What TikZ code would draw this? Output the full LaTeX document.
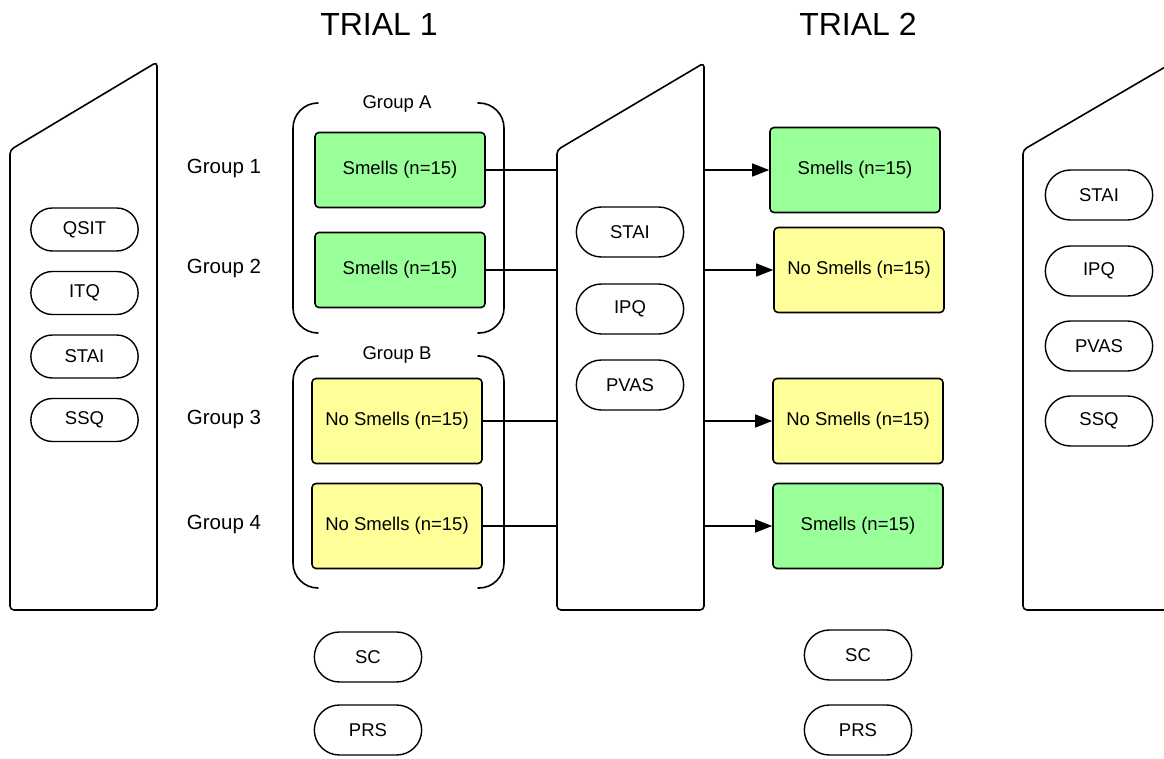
\documentclass[tikz,border=0pt]{standalone}
\usepackage{fontspec}
\setmainfont{Liberation Sans}
\usetikzlibrary{arrows.meta,shapes.misc}
\definecolor{smellgreen}{RGB}{153,255,153}
\definecolor{nosmellyellow}{RGB}{255,255,153}

\tikzset{
  panel/.style={line width=1.6pt,rounded corners=4pt},
  bracket/.style={line width=1.6pt,rounded corners=25pt},
  cond/.style={draw,line width=1.6pt,rounded corners=4pt,minimum width=170pt,font=\fontsize{18.5}{22}\selectfont},
  smells/.style={cond,fill=smellgreen},
  nosmells/.style={cond,fill=nosmellyellow},
  quest/.style={draw,rounded rectangle,line width=1.4pt,minimum width=114pt,minimum height=50pt,font=\fontsize{18.5}{22}\selectfont},
  grouplabel/.style={font=\fontsize{20.5}{24}\selectfont},
  bracelabel/.style={fill=white,inner xsep=8pt,font=\fontsize{18.5}{22}\selectfont},
  trial/.style={font=\fontsize{32}{38}\selectfont},
  link/.style={line width=1.4pt}
}

\begin{document}
\begin{tikzpicture}[line cap=round,line join=round,x=1pt,y=-1pt,>={Triangle[length=17pt,width=13pt]}]
\useasboundingbox (0,0) rectangle (1164,759);

% titles
\node [trial] (trial1) at (379,24) {TRIAL 1};
\node [trial] (trial2) at (858,24) {TRIAL 2};

% the three measurement panels
\draw [panel] (10,150) -- (157,62) -- (157,610) -- (10,610) -- cycle;
\draw [panel] (557,150) -- (704,63) -- (704,610) -- (557,610) -- cycle;
\begin{scope}
\clip (0,0) rectangle (1164,759);
\draw [panel] (1023,150) -- (1172,63) -- (1172,610) -- (1023,610) -- cycle;
\end{scope}
\coordinate (midL) at (557,300);
\coordinate (midR) at (704,300);

% before trial 1
\node [quest,minimum height=43pt] (qsit) at (84.5,229.5) {QSIT};
\node [quest,minimum height=43pt] (itq) at (84.5,293) {ITQ};
\node [quest,minimum height=43pt] (stai0) at (84.5,356.5) {STAI};
\node [quest,minimum height=43pt] (ssq0) at (84.5,420) {SSQ};

% between trials
\node [quest] (stai1) at (630,232) {STAI};
\node [quest] (ipq1) at (630,309) {IPQ};
\node [quest] (pvas1) at (630,385) {PVAS};

% after trial 2
\node [quest] (stai2) at (1099,195) {STAI};
\node [quest] (ipq2) at (1099,271) {IPQ};
\node [quest] (pvas2) at (1099,346) {PVAS};
\node [quest] (ssq2) at (1099,421) {SSQ};

% during the trials
\node [quest] (sc1) at (368,657) {SC};
\node [quest] (prs1) at (368,730) {PRS};
\node [quest] (sc2) at (858,655) {SC};
\node [quest] (prs2) at (858,730) {PRS};

% group brackets
\draw [bracket] (318,103) -| (293,333) -- (318,333);
\draw [bracket] (478,103) -| (504,333) -- (478,333);
\draw [bracket] (318,356) -| (293,588) -- (318,588);
\draw [bracket] (478,356) -| (504,588) -- (478,588);
\node [bracelabel] (groupA) at (397,104) {Group A};
\node [bracelabel] (groupB) at (397,355) {Group B};

\node [grouplabel] (g1) at (224,168) {Group 1};
\node [grouplabel] (g2) at (224,268) {Group 2};
\node [grouplabel] (g3) at (224,419) {Group 3};
\node [grouplabel] (g4) at (224,524) {Group 4};

% trial 1 conditions
\node [smells,minimum height=75pt] (s1) at (400,170) {Smells (n=15)};
\node [smells,minimum height=75pt] (s2) at (400,270) {Smells (n=15)};
\node [nosmells,minimum height=85pt] (s3) at (397,421) {No Smells (n=15)};
\node [nosmells,minimum height=85pt] (s4) at (397,526) {No Smells (n=15)};

% trial 2 conditions
\node [smells,minimum height=85pt] (t1) at (855,170) {Smells (n=15)};
\node [nosmells,minimum height=85pt] (t2) at (859,270) {No Smells (n=15)};
\node [nosmells,minimum height=85pt] (t3) at (858,421) {No Smells (n=15)};
\node [smells,minimum height=85pt] (t4) at (858,526) {Smells (n=15)};

% links into and out of the middle panel
\foreach \a/\b in {s1/t1,s2/t2,s3/t3,s4/t4}{
  \draw [link] (\a.east) -- (\a.east -| midL);
  \draw [link,->] (\b.west -| midR) -- (\b.west);
}
\end{tikzpicture}
\end{document}
